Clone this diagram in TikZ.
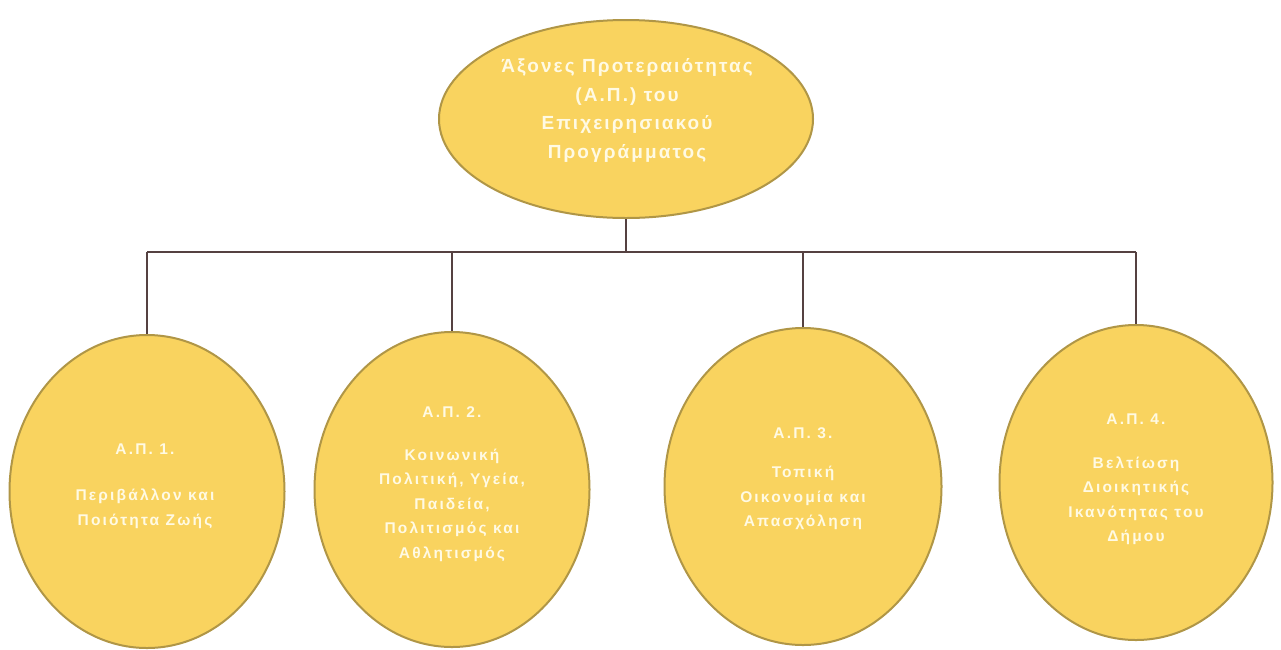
\documentclass[tikz,border=0pt]{standalone}
\usepackage{fontspec}
\setmainfont{Liberation Sans}
\newfontfamily\topfont[LetterSpace=11]{Liberation Sans}
\newfontfamily\subfont[LetterSpace=14]{Liberation Sans}
\usetikzlibrary{shapes.geometric}
\definecolor{ellfill}{RGB}{249,211,95}
\definecolor{elldraw}{RGB}{176,150,70}
\definecolor{txtcol}{RGB}{255,250,228}
\definecolor{linecol}{RGB}{85,65,65}
\tikzset{
  bubble/.style={ellipse, draw=elldraw, fill=ellfill, line width=2pt, inner sep=0pt},
  toptext/.style={align=center, text=txtcol, inner sep=0pt, font=\topfont\bfseries\fontsize{19}{28.5}\selectfont},
  subtext/.style={align=center, text=txtcol, inner sep=0pt, font=\subfont\bfseries\fontsize{15.5}{24.5}\selectfont},
  conn/.style={draw=linecol, line width=1.3pt}
}
\begin{document}
\begin{tikzpicture}[x=1pt,y=-1pt]
\useasboundingbox (0,0) rectangle (1281,649);
\fill[white] (0,0) rectangle (1281,649);
% ellipses
\node[bubble, minimum width=374pt, minimum height=198pt] (e0) at (626,119) {};
\node[bubble, minimum width=275pt, minimum height=313pt] (e1) at (147,491.5) {};
\node[bubble, minimum width=275pt, minimum height=315pt] (e2) at (452,489.5) {};
\node[bubble, minimum width=277pt, minimum height=317pt] (e3) at (803,486.5) {};
\node[bubble, minimum width=273pt, minimum height=315pt] (e4) at (1136,482.5) {};
% texts
\node[toptext] (t0) at (627,110.5) {Άξονες Προτεραιότητας\\(Α.Π.) του\\Επιχειρησιακού\\Προγράμματος};
\node[subtext] (t1) at (145,486.5) {Α.Π. 1.\\[22pt]Περιβάλλον και\\[0.5pt]Ποιότητα Ζωής};
\node[subtext] (t2) at (452,484) {Α.Π. 2.\\[18pt]Κοινωνική\\Πολιτική, Υγεία,\\Παιδεία,\\Πολιτισμός και\\Αθλητισμός};
\node[subtext] (t3) at (803,478.5) {Α.Π. 3.\\[15pt]Τοπική\\Οικονομία και\\Απασχόληση};
\node[subtext] (t4) at (1136,479.5) {Α.Π. 4.\\[19pt]Βελτίωση\\Διοικητικής\\Ικανότητας του\\Δήμου};
% connectors
\coordinate (bus) at (626,252);
\draw[conn] (e0.south) -- (bus);
\draw[conn] (e1.north |- bus) -- (e4.north |- bus);
\draw[conn] (e1.north |- bus) -- (e1.north);
\draw[conn] (e2.north |- bus) -- (e2.north);
\draw[conn] (e3.north |- bus) -- (e3.north);
\draw[conn] (e4.north |- bus) -- (e4.north);
\end{tikzpicture}
\end{document}
